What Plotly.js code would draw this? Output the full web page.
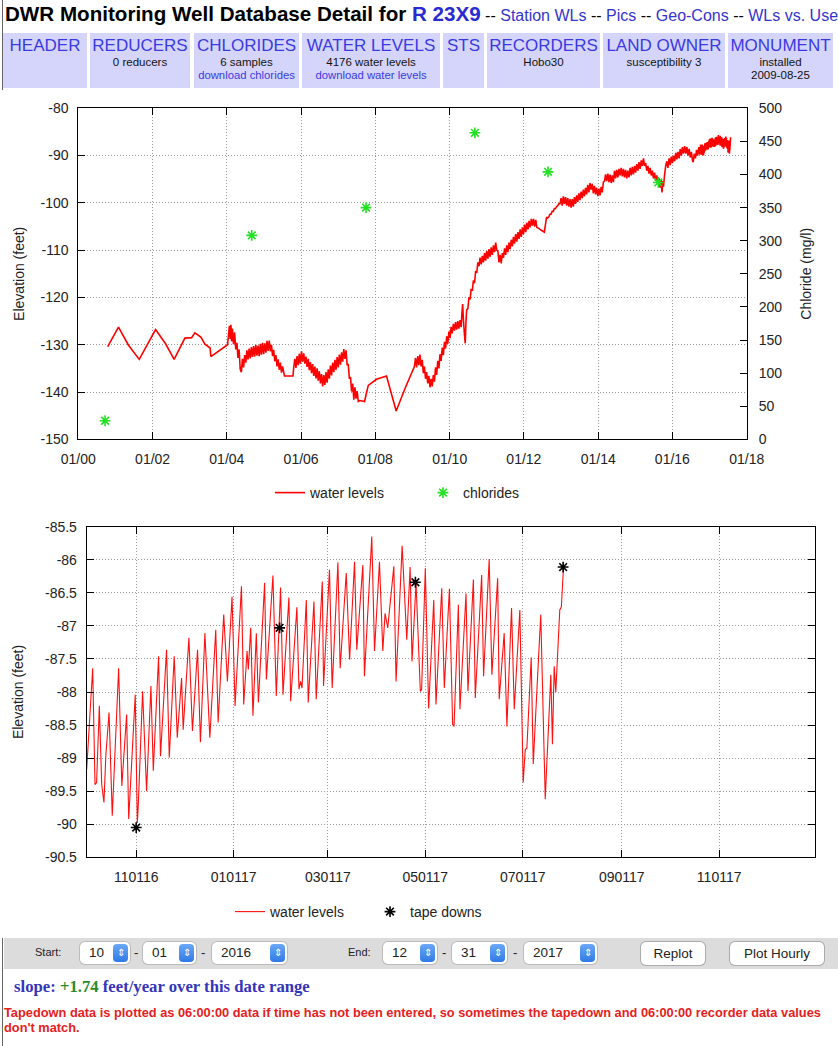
<!DOCTYPE html>
<html><head><meta charset="utf-8">
<script src="https://cdn.plot.ly/plotly-3.0.1.min.js"></script>
<style>
body{margin:0;width:838px;height:1046px;position:relative;overflow:hidden;background:#fff;font-family:"Liberation Sans",Arial,sans-serif;}
#edge{position:absolute;left:2px;top:0;width:1px;height:1046px;background:#666;}
#title{position:absolute;left:5px;top:2px;white-space:nowrap;}
#title .big{font-weight:bold;font-size:20.6px;color:#000;}
#title .id{font-weight:bold;font-size:20.6px;color:#2a2ad0;}
#title .lnk{font-size:16px;color:#3434cc;}
#title .sep{font-size:16px;color:#000;}
.cell{position:absolute;top:33px;height:55px;background:#d5d5fb;text-align:center;}
.cell .h{font-size:17px;color:#3a3ae0;margin-top:3px;line-height:20px;}
.cell .s{font-size:11.5px;color:#111;line-height:13px;}
.cell .l{font-size:11.3px;color:#3a3ae0;line-height:13px;}
#plot{position:absolute;left:0;top:90px;width:838px;height:848px;}
#bar{position:absolute;left:4px;top:938px;width:834px;height:31px;background:#dcdcdc;}
.lab{position:absolute;top:946px;font-size:11px;color:#222;}
.dash{position:absolute;top:945px;font-size:13px;color:#222;}
.sel{position:absolute;top:942px;height:22px;line-height:22px;background:#fff;border-radius:5px;box-shadow:0 0 0 1px #bbb;font-size:13.5px;color:#222;padding-left:9px;box-sizing:border-box;}
.arr{position:absolute;right:2px;top:2px;width:15px;height:18px;border-radius:4px;background:linear-gradient(#6aa8f7,#2f7ae5);color:#fff;font-size:10px;line-height:18px;text-align:center;}
.btn{position:absolute;top:942px;height:23px;line-height:23px;background:#fff;border-radius:5px;box-shadow:0 0 0 1px #aaa;font-size:13.5px;text-align:center;color:#222;}
#slope{position:absolute;left:14px;top:977px;font-family:"Liberation Serif","Times New Roman",serif;font-weight:bold;font-size:16.7px;color:#3434bb;white-space:nowrap;}
#slope .g{color:#2a8a2a;}
#note{position:absolute;left:4px;top:1005px;width:834px;font-weight:bold;font-size:12.8px;line-height:15px;color:#e52020;white-space:nowrap;}
</style></head>
<body>
<div id="edge"></div>
<div id="title"><span class="big">DWR Monitoring Well Database Detail for </span><span class="id">R 23X9</span><span class="sep"> -- </span><span class="lnk">Station WLs</span><span class="sep"> -- </span><span class="lnk">Pics</span><span class="sep"> -- </span><span class="lnk">Geo-Cons</span><span class="sep"> -- </span><span class="lnk">WLs vs. Use</span></div>

<div class="cell" style="left:3px;width:84px"><div class="h">HEADER</div></div>
<div class="cell" style="left:90px;width:100px"><div class="h">REDUCERS</div><div class="s">0 reducers</div></div>
<div class="cell" style="left:194px;width:105px"><div class="h">CHLORIDES</div><div class="s">6 samples</div><div class="l">download chlorides</div></div>
<div class="cell" style="left:302px;width:138px"><div class="h">WATER LEVELS</div><div class="s">4176 water levels</div><div class="l">download water levels</div></div>
<div class="cell" style="left:443px;width:41px"><div class="h">STS</div></div>
<div class="cell" style="left:487px;width:113px"><div class="h">RECORDERS</div><div class="s">Hobo30</div></div>
<div class="cell" style="left:603px;width:122px"><div class="h">LAND OWNER</div><div class="s">susceptibility 3</div></div>
<div class="cell" style="left:728px;width:105px"><div class="h">MONUMENT</div><div class="s">installed</div><div class="s">2009-08-25</div></div>

<div id="plot"></div>

<div id="bar"></div>
<div class="lab" style="left:35px">Start:</div>
<div class="sel" style="left:80px;width:50px">10<span class="arr">⇕</span></div>
<div class="dash" style="left:134px">-</div>
<div class="sel" style="left:143px;width:53px">01<span class="arr">⇕</span></div>
<div class="dash" style="left:201px">-</div>
<div class="sel" style="left:212px;width:75px">2016<span class="arr">⇕</span></div>
<div class="lab" style="left:348px">End:</div>
<div class="sel" style="left:383px;width:54px">12<span class="arr">⇕</span></div>
<div class="dash" style="left:442px">-</div>
<div class="sel" style="left:452px;width:55px">31<span class="arr">⇕</span></div>
<div class="dash" style="left:513px">-</div>
<div class="sel" style="left:524px;width:73px">2017<span class="arr">⇕</span></div>
<div class="btn" style="left:641px;width:64px">Replot</div>
<div class="btn" style="left:730px;width:94px">Plot Hourly</div>

<div id="slope">slope: <span class="g">+1.74</span> feet/year over this date range</div>
<div id="note">Tapedown data is plotted as 06:00:00 data if time has not been entered, so sometimes the tapedown and 06:00:00 recorder data values<br>don't match.</div>

<script>
// ---------- DATA ----------
// Top chart: water levels before the detailed period (decimal years, feet)
const topYears = [2000.79,2001.08,2001.35,2001.64,2002.08,2002.35,2002.58,2002.87,2003.05,2003.14,2003.30,2003.41,2003.55,2003.57,2004.02,
2004.07,2004.09,2004.11,2004.13,2004.15,2004.18,2004.21,2004.24,2004.27,2004.30,2004.33,2004.36,2004.39,2004.42,2004.45,2004.48,2004.51,2004.54,2004.57,2004.60,2004.63,2004.66,2004.69,2004.72,2004.75,2004.78,2004.81,2004.84,2004.87,2004.90,2004.93,2004.96,2004.99,
2005.02,2005.05,2005.08,2005.11,2005.14,2005.17,2005.20,2005.23,2005.26,2005.29,2005.32,2005.35,2005.38,2005.41,2005.44,2005.47,2005.50,2005.55,2005.78,2005.80,2005.83,2005.86,2005.89,2005.92,2005.95,2005.98,
2006.01,2006.04,2006.07,2006.10,2006.13,2006.16,2006.19,2006.22,2006.25,2006.28,2006.31,2006.34,2006.37,2006.40,2006.43,2006.46,2006.49,2006.52,2006.55,2006.58,2006.61,2006.64,2006.67,2006.70,2006.73,2006.76,2006.79,2006.82,2006.85,2006.88,2006.91,2006.94,2006.97,
2007.00,2007.03,2007.06,2007.09,2007.12,2007.15,2007.18,2007.21,2007.24,2007.27,2007.30,2007.33,2007.36,2007.39,2007.42,2007.45,2007.48,2007.51,2007.54,2007.58,2007.71,2007.76,2007.81,2008.03,2008.30,2008.56,2008.80,
2009.05,2009.08,2009.11,2009.14,2009.17,2009.20,2009.23,2009.26,2009.29,2009.32,2009.35,2009.38,2009.41,2009.44,2009.47,2009.50,2009.53,2009.56,2009.59,2009.62,2009.65,2009.68,2009.71,2009.74,2009.77,2009.80,2009.83,2009.86,2009.89,2009.92,2009.95,2009.98,
2010.01,2010.04,2010.07,2010.10,2010.13,2010.16,2010.19,2010.22,2010.25,2010.28,2010.31,2010.33,2010.35,2010.37,2010.40,2010.42,2010.44,2010.46,2010.49,2010.52,2010.55,2010.58,2010.61,2010.64,2010.67,2010.70,2010.73,2010.76,2010.79,2010.82,2010.85,2010.88,2010.91,2010.94,2010.97,
2011.00,2011.03,2011.06,2011.09,2011.12,2011.15,2011.18,2011.21,2011.24,2011.27,2011.30,2011.33,2011.36,2011.39,2011.42,2011.45,2011.48,2011.51,2011.54,2011.57,2011.60,2011.63,2011.66,2011.69,2011.72,2011.75,2011.78,2011.81,2011.84,2011.87,2011.90,2011.93,2011.96,2011.99,
2012.02,2012.05,2012.08,2012.11,2012.14,2012.17,2012.20,2012.23,2012.26,2012.29,2012.32,2012.35,2012.40,2012.47,2012.55,2012.58,2012.61,2012.64,2012.67,2012.70,2012.73,2012.76,2012.79,2012.82,2012.85,2012.88,2012.91,2012.94,2012.97,
2013.00,2013.03,2013.06,2013.09,2013.12,2013.15,2013.18,2013.21,2013.24,2013.27,2013.30,2013.33,2013.36,2013.39,2013.42,2013.45,2013.48,2013.51,2013.54,2013.57,2013.60,2013.63,2013.66,2013.69,2013.72,2013.75,2013.78,2013.81,2013.84,2013.87,2013.90,2013.93,2013.96,2013.99,
2014.02,2014.05,2014.08,2014.11,2014.14,2014.17,2014.20,2014.23,2014.26,2014.29,2014.32,2014.35,2014.38,2014.41,2014.44,2014.47,2014.50,2014.53,2014.56,2014.59,2014.62,2014.65,2014.68,2014.71,2014.74,2014.77,2014.80,2014.83,2014.86,2014.89,2014.92,2014.95,2014.98,
2015.01,2015.04,2015.07,2015.10,2015.13,2015.16,2015.19,2015.22,2015.25,2015.28,2015.31,2015.34,2015.37,2015.40,2015.43,2015.46,2015.49,2015.52,2015.55,2015.58,2015.61,2015.64,2015.67,2015.70,2015.72,2015.74,2015.76,2015.79,2015.82,2015.85,2015.88,2015.91,2015.94,2015.97,
2016.00,2016.03,2016.06,2016.09,2016.12,2016.15,2016.18,2016.21,2016.24,2016.27,2016.30,2016.33,2016.36,2016.39,2016.42,2016.45,2016.48,2016.51,2016.54,2016.56,2016.59,2016.62,2016.65,2016.68,2016.71,2016.74];
const topLevels = [-130.4,-126.3,-130.1,-133.1,-126.8,-129.8,-133.1,-128.6,-128.5,-127.5,-128.4,-129.9,-130.7,-132.5,-130.0,
-126.0,-128.8,-125.8,-129.3,-126.6,-129.9,-127.4,-131.0,-129.6,-132.8,-131.0,-135.2,-135.8,-133.0,-134.8,-132.2,-133.8,-131.2,-133.1,-130.8,-132.9,-130.5,-132.6,-130.3,-132.5,-130.0,-132.3,-130.2,-132.4,-129.8,-132.1,-129.6,-132.0,
-129.7,-131.7,-129.2,-131.3,-129.1,-131.4,-130.0,-132.4,-131.1,-133.5,-132.2,-134.6,-133.1,-135.3,-133.8,-135.9,-134.6,-136.6,-136.6,-134.8,-133.0,-134.9,-132.4,-134.3,-131.9,-134.0,
-131.4,-133.6,-131.8,-134.0,-132.5,-134.7,-133.0,-135.4,-133.7,-136.0,-134.1,-136.6,-134.6,-137.1,-135.0,-137.6,-135.6,-138.2,-136.2,-138.8,-136.4,-138.5,-135.8,-138.0,-135.2,-137.2,-134.4,-136.5,-133.8,-135.8,-133.2,-135.3,-132.6,
-134.8,-132.1,-134.2,-131.6,-133.6,-130.9,-133.0,-131.2,-134.2,-134.2,-137.2,-136.8,-139.9,-138.2,-141.6,-139.0,-141.4,-139.8,-142.0,-141.8,-142.0,-140.2,-138.6,-137.3,-136.6,-144.0,-139.2,
-134.6,-132.8,-134.8,-132.4,-134.3,-132.1,-134.6,-133.2,-136.0,-134.6,-137.2,-135.8,-138.2,-136.6,-139.0,-137.2,-138.8,-136.4,-137.8,-134.8,-136.4,-133.4,-135.0,-132.0,-133.4,-130.6,-132.2,-129.4,-130.8,-128.2,-129.8,-127.2,
-128.6,-126.2,-127.6,-125.6,-127.0,-125.2,-126.8,-125.0,-126.6,-124.8,-126.3,-123.4,-121.4,-124.6,-128.0,-129.7,-125.0,-122.6,-122.4,-120.0,-120.4,-118.2,-118.6,-116.4,-117.0,-114.4,-114.8,-112.6,-113.4,-111.6,-113.0,-111.2,-112.6,-110.6,-112.2,
-110.2,-111.8,-109.8,-111.4,-109.4,-111.0,-109.0,-110.4,-108.4,-110.0,-110.2,-112.6,-111.0,-112.8,-110.6,-111.6,-109.6,-111.0,-109.0,-110.4,-108.4,-109.8,-107.8,-109.2,-107.2,-108.6,-106.6,-108.2,-106.2,-107.6,-105.6,-107.2,-105.2,-106.6,
-104.6,-106.2,-104.2,-105.6,-103.8,-105.2,-103.4,-104.8,-103.4,-105.0,-103.6,-105.2,-105.4,-105.8,-106.2,-104.6,-103.0,-103.2,-103.0,-102.4,-102.4,-101.8,-101.8,-101.2,-101.2,-100.8,-100.6,-100.2,-100.2,
-99.0,-100.6,-98.6,-100.2,-98.8,-100.6,-99.0,-100.8,-99.2,-101.0,-99.2,-100.8,-98.8,-100.2,-98.4,-99.8,-98.0,-99.4,-97.6,-99.0,-97.2,-98.6,-96.8,-98.2,-96.2,-97.8,-95.8,-97.2,-96.0,-98.0,-96.4,-98.2,-96.8,-98.6,
-97.0,-98.4,-96.6,-97.8,-95.6,-95.4,-94.0,-95.4,-93.8,-95.6,-94.0,-95.8,-94.2,-95.6,-93.2,-94.8,-93.0,-94.6,-92.8,-94.2,-92.6,-94.4,-92.8,-94.6,-93.0,-94.8,-93.2,-94.6,-92.6,-94.2,-92.4,-94.0,-92.2,
-93.6,-91.8,-93.2,-91.4,-92.8,-91.0,-92.2,-90.6,-92.2,-91.6,-93.2,-92.2,-93.8,-92.6,-94.2,-93.2,-94.8,-93.6,-95.4,-94.2,-96.0,-94.8,-96.8,-95.2,-97.8,-95.4,-96.6,-94.0,-92.2,-91.2,-92.6,-90.6,-92.0,-90.2,
-91.6,-90.0,-91.2,-89.4,-90.8,-89.2,-90.6,-88.6,-90.0,-88.2,-89.6,-88.0,-89.6,-88.2,-90.0,-88.6,-90.4,-89.2,-91.0,-91.4,-89.6,-90.6,-88.8,-90.0,-88.2,-89.8];

// Chloride samples (decimal years, mg/l)
const chlorideYears = [2000.72, 2004.67, 2007.75, 2010.68, 2012.65, 2015.62];
const chlorideValues = [28, 308, 350, 463, 404, 388];

// Detailed period: days after 2016-10-01, water level (feet)
const detailStart = '2016-10-01';
const detailDays = [0,3.75,5.2,6.2,7.9,9.4,10.8,12.0,14.0,16.0,20.0,22.0,25.0,26.3,30.4,31.7,32.3,35.0,37.5,40.2,41.7,45.0,46.2,50.0,51.7,54.8,56.7,59.4,60.4,64.0,66.2,69.4,71.2,74.0,77.1,80.8,82.3,85.8,88.1,91.0,92.9,96.9,98.3,100.4,101.2,102.7,104.1,106.2,107.5,111.4,112.5,116.6,118.7,121.4,122.9,126.6,127.7,131.6,132.9,133.9,134.8,137.5,138.7,142.3,143.7,147.5,148.3,152.0,153.7,157.3,158.7,162.5,164.6,167.7,169.1,172.9,173.9,178.5,180.2,183.3,185.4,186.8,188.5,192.3,193.7,197.5,200.4,202.5,203.7,206.2,208.9,209.7,212.0,214.1,217.3,218.7,222.3,223.9,227.1,229.1,230.0,232.7,233.7,237.5,238.7,242.1,243.3,247.3,248.5,252.0,253.7,257.3,258.3,261.4,263.1,266.0,267.7,271.2,273.3,274.6,275.6,278.3,279.6,281.9,284.3,287.1,290.6,291.6,292.7,293.7,296.2,297.2,298.5];
const detailLevels = [-89.17,-87.64,-89.40,-89.37,-88.21,-89.40,-89.67,-88.95,-88.31,-89.87,-87.64,-89.42,-88.34,-89.92,-88.04,-89.98,-89.72,-87.99,-89.50,-87.91,-89.19,-87.46,-88.97,-87.36,-88.99,-87.46,-88.69,-87.79,-88.57,-87.18,-88.59,-87.36,-88.76,-87.11,-88.69,-87.06,-88.46,-86.83,-87.84,-86.56,-88.21,-86.40,-88.19,-87.38,-87.66,-87.03,-88.36,-87.11,-88.16,-86.35,-87.81,-86.24,-88.06,-86.42,-88.04,-86.57,-88.14,-86.72,-87.96,-87.84,-87.94,-86.61,-88.16,-86.63,-88.11,-86.33,-87.91,-86.15,-87.94,-86.04,-87.64,-86.20,-87.51,-86.03,-87.36,-86.08,-87.76,-85.65,-87.38,-86.03,-87.38,-86.81,-87.03,-86.10,-87.84,-85.79,-87.21,-86.11,-87.54,-86.35,-87.99,-87.96,-86.13,-88.25,-86.61,-88.19,-86.43,-87.94,-86.44,-88.49,-88.52,-86.68,-88.26,-86.51,-87.99,-86.30,-88.09,-86.23,-87.76,-85.99,-87.74,-86.28,-88.11,-87.11,-88.52,-86.73,-88.26,-86.76,-89.37,-88.87,-88.85,-87.48,-89.09,-87.96,-86.83,-89.62,-87.74,-88.79,-87.61,-88.00,-86.76,-86.71,-86.13];

// Tape downs (days after 2016-10-01, feet)
const tapeDays = [31, 120.8, 205.8, 298.3];
const tapeLevels = [-90.05, -87.03, -86.34, -86.11];

// Tick labels
const topElevTicks = [-150,-140,-130,-120,-110,-100,-90,-80];
const topElevLabels = ['-150','-140','-130','-120','-110','-100','-90','-80'];
const botElevTicks = [-90.5,-90,-89.5,-89,-88.5,-88,-87.5,-87,-86.5,-86,-85.5];
const botElevLabels = ['-90.5','-90','-89.5','-89','-88.5','-88','-87.5','-87','-86.5','-86','-85.5'];

// ---------- HELPERS ----------
function iso(ms){ return new Date(ms).toISOString().slice(0,19).replace('T',' '); }
function decYear(y){ const yr=Math.floor(y); const a=Date.UTC(yr,0,1), b=Date.UTC(yr+1,0,1); return iso(a+(y-yr)*(b-a)); }
const startMs = Date.parse(detailStart+'T00:00:00Z');
function dayDate(d){ return iso(startMs + d*86400000); }

const detailDates = detailDays.map(dayDate);
const topDates = topYears.map(decYear).concat(detailDates);
const topAll = topLevels.concat(detailLevels);

// minor ticks for bottom chart: each 2-month interval split in 6
const minorVals = [];
for (let m=0; m<16; m+=2){
  const a = Date.UTC(2016, 8+m, 1), b = Date.UTC(2016, 10+m, 1);
  for (let k=1;k<6;k++) minorVals.push(iso(a + (b-a)*k/6));
}

// ---------- LAYOUT ----------
const W=838, H=848, TOP=90;
const fx = p => p/W, fy = p => 1-(p-TOP)/H;
const FONT = 'Liberation Sans, Arial, sans-serif';
const tf = {family:FONT, size:14, color:'#222'};
const GD = '1px,2px';
const common = {ticks:'inside', ticklen:7, tickwidth:1, tickcolor:'#000', showline:true, linecolor:'#000', linewidth:1,
  zeroline:false, showgrid:true, gridcolor:'#9a9a9a', griddash:GD, gridwidth:1, tickfont:tf};
const minorAxis = {ticks:'inside', ticklen:4, tickwidth:1, tickcolor:'#000', showticklabels:false, showgrid:false,
  zeroline:false, showline:false, mirror:'ticks', side:'bottom', type:'date'};
const topDom = [fx(78.3),fx(746.7)], botDom = [fx(86.7),fx(815)];
const topRange = ['2000-01-01','2018-01-01'], botRange = ['2016-10-01','2017-12-31'];

const layout = {
  width:W, height:H, margin:{l:0,r:0,t:0,b:0}, paper_bgcolor:'#fff', plot_bgcolor:'#fff',
  font:tf, showlegend:true,
  xaxis: Object.assign({}, common, {domain:topDom, anchor:'y', type:'date',
    range:topRange, tick0:'2000-01-01', dtick:'M24', tickformat:'%m/%y', mirror:'ticks', ticklabelstandoff:7}),
  xaxis3: Object.assign({}, minorAxis, {overlaying:'x', anchor:'y', range:topRange, tick0:'2000-01-01', dtick:'M3'}),
  yaxis: Object.assign({}, common, {domain:[fy(439.3),fy(108.3)], anchor:'x', range:[-150,-80],
    tickmode:'array', tickvals:topElevTicks, ticktext:topElevLabels, mirror:true, ticklabelstandoff:6,
    title:{text:'Elevation (feet)', font:tf, standoff:12}}),
  yaxis2: {overlaying:'y', side:'right', anchor:'x', range:[0,500], dtick:50, ticks:'inside', ticklen:7,
    tickcolor:'#000', showgrid:false, zeroline:false, showline:false, tickfont:tf, ticklabelstandoff:11,
    title:{text:'Chloride (mg/l)', font:tf, standoff:19}},
  xaxis2: Object.assign({}, common, {domain:botDom, anchor:'y3', type:'date',
    range:botRange, tick0:'2016-11-01', dtick:'M2', tickformat:'%m%d%y', mirror:'ticks', ticklabelstandoff:7}),
  xaxis4: Object.assign({}, minorAxis, {overlaying:'x2', anchor:'y3', range:botRange, tickmode:'array', tickvals:minorVals}),
  yaxis3: Object.assign({}, common, {domain:[fy(857.3),fy(526.7)], anchor:'x2', range:[-90.5,-85.5],
    tickmode:'array', tickvals:botElevTicks, ticktext:botElevLabels, mirror:'ticks', ticklabelstandoff:6,
    title:{text:'Elevation (feet)', font:tf, standoff:18}}),
  legend: {orientation:'h', x:fx(270), xanchor:'left', y:fy(493), yanchor:'middle', font:tf, entrywidth:108,
    bgcolor:'rgba(0,0,0,0)', itemclick:false},
  legend2: {orientation:'h', x:fx(230), xanchor:'left', y:fy(912), yanchor:'middle', font:tf, entrywidth:95,
    bgcolor:'rgba(0,0,0,0)', itemclick:false}
};

const traces = [
  {type:'scatter', mode:'lines', name:'water levels', x:topDates, y:topAll, xaxis:'x', yaxis:'y',
   line:{color:'#ff0000', width:1.6, simplify:false}, legend:'legend'},
  {type:'scatter', mode:'markers', name:'chlorides', x:chlorideYears.map(decYear), y:chlorideValues, xaxis:'x', yaxis:'y2',
   marker:{symbol:'asterisk', size:9, color:'#22e022', line:{color:'#22e022', width:1.6}}, legend:'legend'},
  {type:'scatter', mode:'lines', name:'water levels', x:detailDates, y:detailLevels, xaxis:'x2', yaxis:'y3',
   line:{color:'#ff1010', width:1.1, simplify:false}, legend:'legend2'},
  {type:'scatter', mode:'markers', name:'tape downs', x:tapeDays.map(dayDate), y:tapeLevels, xaxis:'x2', yaxis:'y3',
   marker:{symbol:'asterisk', size:9, color:'#000', line:{color:'#000', width:1.6}}, legend:'legend2'}
];

Plotly.newPlot('plot', traces, layout, {staticPlot:true, displayModeBar:false});
</script>
</body></html>
